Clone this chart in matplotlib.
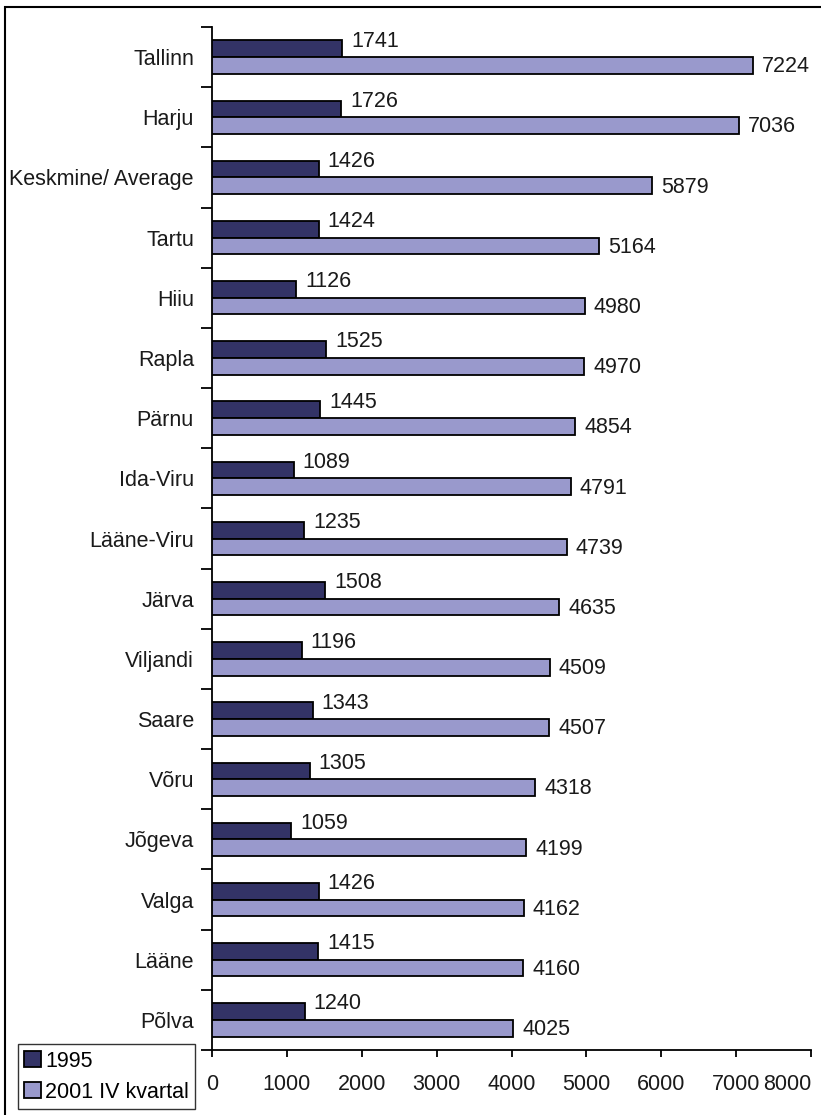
import matplotlib
matplotlib.use("Agg")
import matplotlib.pyplot as plt
from matplotlib.patches import Rectangle, Patch
import matplotlib.transforms as mtransforms
import numpy as np

plt.rcParams['font.family'] = ['Liberation Sans', 'DejaVu Sans']

categories = ["Tallinn", "Harju", "Keskmine/ Average", "Tartu", "Hiiu", "Rapla", "Pärnu",
              "Ida-Viru", "Lääne-Viru", "Järva", "Viljandi", "Saare", "Võru", "Jõgeva",
              "Valga", "Lääne", "Põlva"]
values_1995 = [1741, 1726, 1426, 1424, 1126, 1525, 1445, 1089, 1235, 1508, 1196, 1343,
               1305, 1059, 1426, 1415, 1240]
values_2001 = [7224, 7036, 5879, 5164, 4980, 4970, 4854, 4791, 4739, 4635, 4509, 4507,
               4318, 4199, 4162, 4160, 4025]
series_names = ["1995", "2001 IV kvartal"]
xticks = [0, 1000, 2000, 3000, 4000, 5000, 6000, 7000, 8000]

dark = "#333366"
light = "#9999CC"
fs = 15.5
tc = "#1a1a1a"

W, H = 821, 1115
fig = plt.figure(figsize=(W / 100, H / 100), dpi=100)
ax = fig.add_axes([212 / W, 1 - 1050 / H, (811 - 212) / W, (1050 - 27) / H])

n = len(categories)
y = np.arange(n)
bh = 0.277
ax.barh(y - bh / 2, values_1995, height=bh, color=dark, edgecolor="black", linewidth=1.3, zorder=3)
ax.barh(y + bh / 2, values_2001, height=bh, color=light, edgecolor="black", linewidth=1.3, zorder=3)

for yi, v in zip(y, values_1995):
    ax.annotate(str(v), (v, yi - bh / 2), xytext=(6.5, 5.5), textcoords="offset points",
                ha="left", va="center", fontsize=fs, color=tc)
for yi, v in zip(y, values_2001):
    ax.annotate(str(v), (v, yi + bh / 2), xytext=(6.5, -1), textcoords="offset points",
                ha="left", va="center", fontsize=fs, color=tc)

ax.set_xlim(0, 8000)
ax.set_ylim(n - 0.5, -0.5)
ax.set_xticks(xticks)
ax.set_xticklabels([str(t) for t in xticks], fontsize=fs, color=tc)
lbls = ax.get_xticklabels()
lbls[-1].set_ha("right")
offset = mtransforms.ScaledTranslation(3.5 / 72, 0, fig.dpi_scale_trans)
lbls[-1].set_transform(lbls[-1].get_transform() + offset)
ax.tick_params(axis="x", direction="out", length=5, width=1.3, pad=12)

ax.set_yticks(np.arange(-0.5, n, 1.0))
ax.set_yticklabels([])
ax.set_yticks(y, minor=True)
ax.set_yticklabels(categories, minor=True, fontsize=fs, color=tc)
ax.tick_params(axis="y", which="major", direction="out", length=8, width=1.3)
ax.tick_params(axis="y", which="minor", length=0, pad=13)

for s in ["top", "right"]:
    ax.spines[s].set_visible(False)
for s in ["left", "bottom"]:
    ax.spines[s].set_linewidth(1.3)

handles = [Patch(facecolor=dark, edgecolor="black", linewidth=1.3),
           Patch(facecolor=light, edgecolor="black", linewidth=1.3)]
leg = fig.legend(handles, series_names, loc="lower left",
                 bbox_to_anchor=(18 / W, 1 - 1109 / H), fontsize=fs,
                 frameon=True, fancybox=False, edgecolor="black",
                 handlelength=0.75, handleheight=0.75, handletextpad=0.2,
                 borderpad=0.3, labelspacing=0.45, borderaxespad=0)
leg.get_frame().set_linewidth(1.0)

# outer chart border
fig.patches.append(Rectangle((5 / W, -0.05), 1.2, 1 - 7 / H + 0.05, transform=fig.transFigure,
                             fill=False, edgecolor="black", linewidth=1.5))

fig.savefig("out.png", dpi=100)
